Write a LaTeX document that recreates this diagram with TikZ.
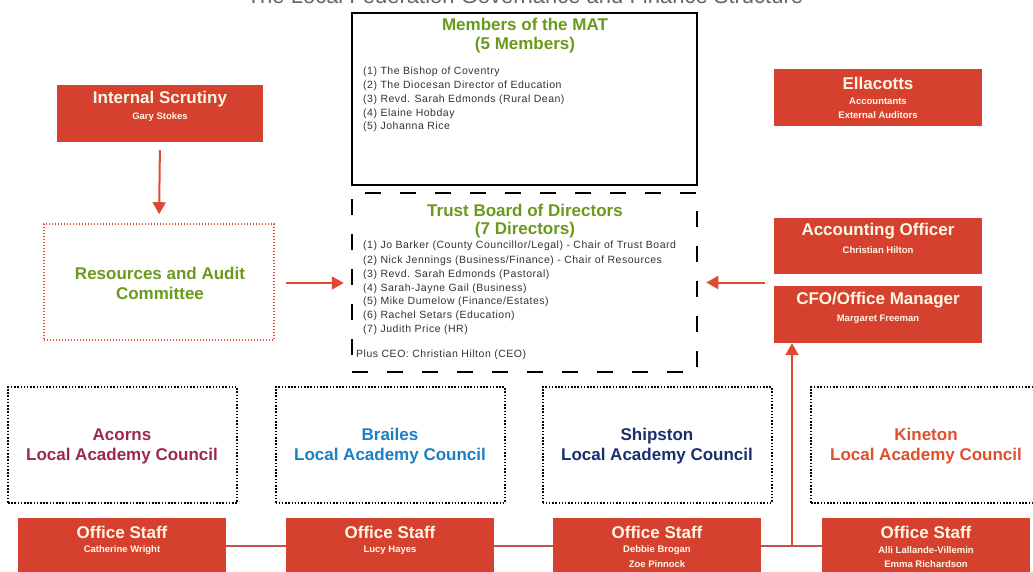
\documentclass[tikz,border=0pt]{standalone}
\usepackage{fontspec}
\setmainfont{Liberation Sans}
\usetikzlibrary{arrows.meta}
\definecolor{boxred}{HTML}{D5412E}
\definecolor{boxtxt}{HTML}{FFF8E6}
\definecolor{linered}{HTML}{E04A35}
\definecolor{connred}{HTML}{C8504A}
\definecolor{ttlgreen}{HTML}{6A9A1C}
\definecolor{acorns}{HTML}{9B2A4A}
\definecolor{brailes}{HTML}{1A7FC4}
\definecolor{shipston}{HTML}{1B2F6E}
\definecolor{kineton}{HTML}{E0502A}
\definecolor{listgrey}{HTML}{333333}
\definecolor{ttlgrey}{HTML}{666666}
\begin{document}
\begin{tikzpicture}[x=1pt,y=-1pt,
  redbox/.style={fill=boxred, draw=none, minimum width=208pt, minimum height=57pt, inner sep=0pt},
  rtitle/.style={text=boxtxt, font=\bfseries\fontsize{17}{17}\selectfont, inner sep=0pt},
  rsub/.style={text=boxtxt, font=\bfseries\fontsize{9.5}{10}\selectfont, inner sep=0pt},
  gtitle/.style={text=ttlgreen, font=\bfseries\fontsize{17}{17}\selectfont, inner sep=0pt},
  listtxt/.style={text=listgrey, font=\fontsize{10.5}{10.5}\selectfont\addfontfeature{LetterSpace=5}, inner sep=0pt, anchor=west},
  lacbox/.style={draw=black, line width=2pt, dash pattern=on 1.5pt off 1.7pt, minimum width=229pt, minimum height=116pt, inner sep=0pt},
  lactxt/.style={font=\bfseries\fontsize{17}{20}\selectfont, align=center, inner sep=0pt},
  arr/.style={draw=linered, line width=2pt, -{Triangle[length=12pt,width=13pt]}},
  conn/.style={draw=connred, line width=2pt}
]
\useasboundingbox (0,0) rectangle (1033,571);
\clip (0,0) rectangle (1033,571);
\fill[white] (0,0) rectangle (1033,571);

% title (cut off by the top edge)
\node[text=ttlgrey, font=\fontsize{22}{22}\selectfont, inner sep=0pt, anchor=base] (title) at (525,3) {The Local Federation Governance and Finance Structure};

% Members of the MAT
\node[draw=black, line width=2pt, minimum width=345pt, minimum height=172pt, inner sep=0pt] (mat) at (524.5,99) {};
\node[gtitle] (mat-t1) at (525,24) {Members of the MAT};
\node[gtitle] (mat-t2) at (525,45) {(5 Members)};
\node[listtxt] (mat-1) at (363,72) {(1) The Bishop of Coventry};
\node[listtxt] (mat-2) at (363,86) {(2) The Diocesan Director of Education};
\node[listtxt] (mat-3) at (363,100) {(3) Revd. Sarah Edmonds (Rural Dean)};
\node[listtxt] (mat-4) at (363,114) {(4) Elaine Hobday};
\node[listtxt] (mat-5) at (363,127) {(5) Johanna Rice};

% Trust Board
\node[draw=black, line width=2.5pt, dash pattern=on 16pt off 19pt, minimum width=345pt, minimum height=179pt, inner sep=0pt] (tb) at (524.5,282.5) {};
\node[gtitle] (tb-t1) at (525,210) {Trust Board of Directors};
\node[gtitle] (tb-t2) at (525,230) {(7 Directors)};
\node[listtxt] (tb-1) at (363,246) {(1) Jo Barker (County Councillor/Legal) - Chair of Trust Board};
\node[listtxt] (tb-2) at (363,261) {(2) Nick Jennings (Business/Finance) - Chair of Resources};
\node[listtxt] (tb-3) at (363,275) {(3) Revd. Sarah Edmonds (Pastoral)};
\node[listtxt] (tb-4) at (363,289) {(4) Sarah-Jayne Gail (Business)};
\node[listtxt] (tb-5) at (363,302) {(5) Mike Dumelow (Finance/Estates)};
\node[listtxt] (tb-6) at (363,316) {(6) Rachel Setars (Education)};
\node[listtxt] (tb-7) at (363,330) {(7) Judith Price (HR)};
\node[listtxt] (tb-ceo) at (356,355) {Plus CEO: Christian Hilton (CEO)};

% Internal Scrutiny
\node[redbox, minimum width=206pt] (is) at (160,113.5) {};
\node[rtitle] (is-t) at (160,99) {Internal Scrutiny};
\node[rsub] (is-s) at (160,117) {Gary Stokes};

% Resources and Audit Committee
\node[draw=linered, line width=1.6pt, dash pattern=on 1.2pt off 1.8pt, minimum width=230pt, minimum height=116pt, inner sep=0pt] (rac) at (159,282) {};
\node[gtitle, align=center] (rac-t) at (160,283) {Resources and Audit\\[3pt]Committee};

% right column
\node[redbox] (el) at (878,97.5) {};
\node[rtitle] (el-t) at (878,83) {Ellacotts};
\node[rsub] (el-s1) at (878,101) {Accountants};
\node[rsub] (el-s2) at (878,115) {External Auditors};

\node[redbox, minimum height=56pt] (ao) at (878,246) {};
\node[rtitle] (ao-t) at (878,231) {Accounting Officer};
\node[rsub] (ao-s) at (878,250) {Christian Hilton};

\node[redbox] (cfo) at (878,314.5) {};
\node[rtitle] (cfo-t) at (878,300) {CFO/Office Manager};
\node[rsub] (cfo-s) at (878,319) {Margaret Freeman};

\coordinate (acc) at (774,282.5);

% Local Academy Councils
\node[lacbox] (lac1) at (122.5,445) {};
\node[lactxt, text=acorns] (lac1-t) at (122,446) {Acorns\\Local Academy Council};
\node[lacbox] (lac2) at (390,445) {};
\node[lactxt, text=brailes] (lac2-t) at (390,446) {Brailes\\Local Academy Council};
\node[lacbox] (lac3) at (657,445) {};
\node[lactxt, text=shipston] (lac3-t) at (657,446) {Shipston\\Local Academy Council};
\node[lacbox] (lac4) at (925.5,445) {};
\node[lactxt, text=kineton] (lac4-t) at (926,446) {Kineton\\Local Academy Council};

% Office staff
\node[redbox, minimum height=60pt] (os1) at (122,548) {};
\node[rtitle] (os1-t) at (122,532) {Office Staff};
\node[rsub] (os1-s) at (122,550) {Catherine Wright};
\node[redbox, minimum height=60pt] (os2) at (390,548) {};
\node[rtitle] (os2-t) at (390,532) {Office Staff};
\node[rsub] (os2-s) at (390,550) {Lucy Hayes};
\node[redbox, minimum height=60pt] (os3) at (657,548) {};
\node[rtitle] (os3-t) at (657,532) {Office Staff};
\node[rsub] (os3-s1) at (657,550) {Debbie Brogan};
\node[rsub] (os3-s2) at (657,564) {Zoe Pinnock};
\node[redbox, minimum height=60pt] (os4) at (926,548) {};
\node[rtitle] (os4-t) at (926,532) {Office Staff};
\node[rsub] (os4-s1) at (926,550) {Alli Lallande-Villemin};
\node[rsub] (os4-s2) at (926,564) {Emma Richardson};

% connectors
\draw[conn] (os1.east |- 0,546) -- (os2.west |- 0,546);
\draw[conn] (os2.east |- 0,546) -- (os3.west |- 0,546);
\draw[conn] (os3.east |- 0,546) -- (os4.west |- 0,546);
\coordinate (up) at (792,546);
\draw[arr] (up) -- (up |- cfo.south);

\draw[arr, shorten <=8pt, shorten >=9pt] (is.south) -- (rac.north);
\draw[arr, shorten <=11pt, shorten >=7pt] (rac.east |- 0,283) -- (tb.west |- 0,283);
\draw[arr, shorten <=9pt, shorten >=8pt] (acc) -- (tb.east |- acc);
\end{tikzpicture}
\end{document}
